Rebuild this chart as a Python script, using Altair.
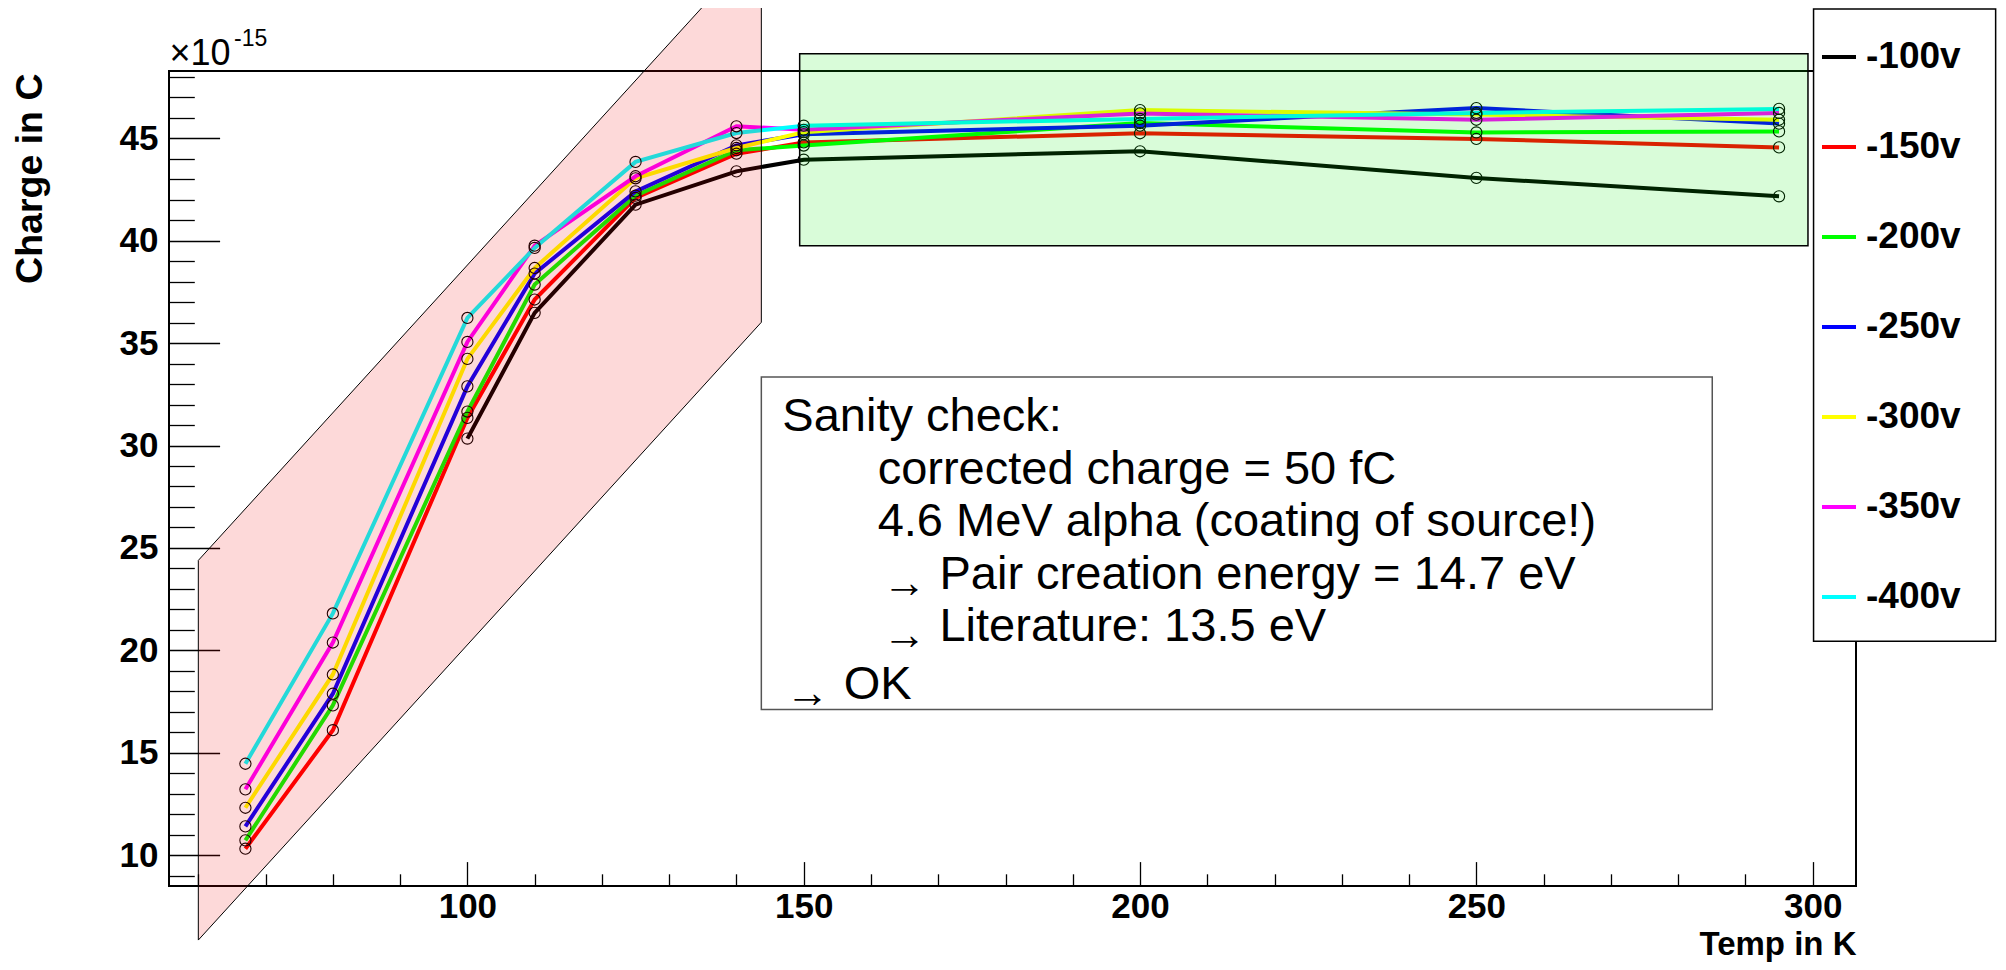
import altair as alt
import pandas as pd

# ---------------- data ----------------
temps = [67, 80, 100, 110, 125, 140, 150, 200, 250, 295]
series_names = ["-100v", "-150v", "-200v", "-250v", "-300v", "-350v", "-400v"]
series_colors = ["#000000", "#ff0000", "#00ff00", "#0000ff", "#ffff00", "#ff00ff", "#00ffff"]

q_100v = [None, None, 30.34, 36.48, 41.76, 43.39, 43.96, 44.37, 43.07, 42.17]
q_150v = [10.31, 16.10, 31.35, 37.13, 42.09, 44.25, 44.80, 45.25, 44.97, 44.56]
q_200v = [10.72, 17.31, 31.66, 37.86, 42.20, 44.42, 44.65, 45.75, 45.29, 45.34]
q_250v = [11.40, 17.88, 32.89, 38.40, 42.41, 44.66, 45.20, 45.62, 46.48, 45.72]
q_300v = [12.31, 18.82, 34.23, 38.67, 43.05, 44.53, 45.30, 46.38, 46.16, 45.91]
q_350v = [13.21, 20.38, 35.06, 39.76, 43.15, 45.59, 45.42, 46.22, 45.91, 46.24]
q_400v = [14.46, 21.80, 36.23, 39.65, 43.85, 45.26, 45.62, 45.95, 46.24, 46.44]
series_values = [q_100v, q_150v, q_200v, q_250v, q_300v, q_350v, q_400v]

x_domain = [55.64, 306.44]
y_domain = [8.49, 48.29]
x_ticks = list(range(60, 301, 10))
y_ticks = list(range(9, 49))

# annotation shapes (data units)
pink_x = [60.0, 143.7]
pink_top = [24.39, 54.57]
pink_bottom = [5.85, 36.02]
green_box = [149.4, 299.3, 39.76, 49.13]
note_box = [143.7, 285.07, 17.11, 33.35]
legend_box = [300.13, 327.2, 20.44, 51.32]

note_lines = ["Sanity check:", "corrected charge = 50 fC", "4.6 MeV alpha (coating of source!)",
              "Pair creation energy = 14.7 eV", "Literature: 13.5 eV", "OK"]
note_x = [146.82, 160.99, 160.99, 170.18, 170.18, 155.94]
note_y = [30.73, 28.14, 25.57, 22.97, 20.45, 17.60]
arrow_x = [161.7, 161.7, 147.3]
arrow_y = [22.97, 20.45, 17.60]

exp_text = ["\u00d710", "-15"]
exp_x = [55.70, 65.30]
exp_y = [48.60, 49.49]

# ---------------- tables ----------------
rows = []
for name, vals in zip(series_names, series_values):
    for t, v in zip(temps, vals):
        if v is not None:
            rows.append({"series": name, "T": t, "Q": v})
df = pd.DataFrame(rows)

FONT = "Liberation Sans"

xs = alt.Scale(domain=x_domain, zero=False, nice=False)
ys = alt.Scale(domain=y_domain, zero=False, nice=False)

xaxis = alt.Axis(
    values=x_ticks, grid=False, domain=False,
    labelExpr="datum.value % 50 === 0 ? datum.label : ''",
    tickSize={"condition": {"test": "datum.value % 50 === 0", "value": -24.4}, "value": -12.2},
    tickColor="black", tickWidth=1.3,
    labelFont=FONT, labelFontSize=35, labelFontWeight="bold", labelColor="black",
    labelPadding=28, labelOverlap=False, labelFlush=False,
    title="Temp in K", titleFont=FONT, titleFontSize=33, titleFontWeight="bold", titleColor="black",
    titleAlign="right", titleAnchor="end", titleBaseline="alphabetic", titleX=1687, titleY=68.5,
)
yaxis = alt.Axis(
    values=y_ticks, grid=False, domain=False,
    labelExpr="datum.value % 5 === 0 ? datum.label : ''",
    tickSize={"condition": {"test": "datum.value % 5 === 0", "value": -50.6}, "value": -25.3},
    tickColor="black", tickWidth=1.3,
    labelFont=FONT, labelFontSize=35, labelFontWeight="bold", labelColor="black",
    labelPadding=61.6, labelOverlap=False, labelFlush=False,
    title="Charge in C", titleFont=FONT, titleFontSize=37.5, titleFontWeight="bold", titleColor="black",
    titleAngle=270, titleAlign="right", titleAnchor="end", titleBaseline="alphabetic",
    titleX=-128, titleY=2,
)


def X(f):
    return alt.X(f, type="quantitative", scale=xs, axis=xaxis)


def Y(f):
    return alt.Y(f, type="quantitative", scale=ys, axis=yaxis)


frame_df = pd.DataFrame({"x0": [x_domain[0]], "x1": [x_domain[1]], "y0": [y_domain[0]], "y1": [y_domain[1]]})
frame = alt.Chart(frame_df).mark_rect(fill=None, stroke="black", strokeWidth=2).encode(
    x=X("x0"), x2="x1", y=Y("y0"), y2="y1")

legend = alt.Legend(
    orient="none", legendX=1651, legendY=-33, title=None,
    symbolType="stroke", symbolSize=1156, symbolStrokeWidth=4, symbolOpacity=1,
    labelFont=FONT, labelFontSize=37, labelFontWeight="bold", labelColor="black",
    labelOffset=8, rowPadding=53, padding=0,
)

lines = alt.Chart(df).mark_line(strokeWidth=4).encode(
    x=X("T"), y=Y("Q"),
    color=alt.Color("series:N", scale=alt.Scale(domain=series_names, range=series_colors),
                    sort=series_names, legend=legend),
)
points = alt.Chart(df).mark_point(shape="circle", filled=False, size=125, color="black",
                                  strokeWidth=1.1, opacity=1).encode(x=X("T"), y=Y("Q"))

pink_df = pd.DataFrame({"x": pink_x, "top": pink_top, "bot": pink_bottom})
pink = alt.Chart(pink_df).mark_area(fill="#f20000", fillOpacity=0.15, stroke="black",
                                    strokeWidth=1, orient="vertical").encode(
    x=X("x"), y=Y("top"), y2="bot")

green_df = pd.DataFrame({"x0": [green_box[0]], "x1": [green_box[1]], "y0": [green_box[2]], "y1": [green_box[3]]})
green = alt.Chart(green_df).mark_rect(fill="#00e800", fillOpacity=0.15, stroke="black",
                                      strokeWidth=1.5).encode(x=X("x0"), x2="x1", y=Y("y0"), y2="y1")

note_df = pd.DataFrame({"x0": [note_box[0]], "x1": [note_box[1]], "y0": [note_box[2]], "y1": [note_box[3]]})
note_rect = alt.Chart(note_df).mark_rect(fill="white", stroke="#555555", strokeWidth=1.5).encode(
    x=X("x0"), x2="x1", y=Y("y0"), y2="y1")

text_df = pd.DataFrame({"x": note_x, "y": note_y, "label": note_lines})
note_text = alt.Chart(text_df).mark_text(align="left", baseline="alphabetic", font=FONT,
                                         fontSize=47, color="black").encode(
    x=X("x"), y=Y("y"), text="label:N")

arrow_df = pd.DataFrame({"x": arrow_x, "y": arrow_y, "label": ["\u2192"] * len(arrow_x)})
arrows = alt.Chart(arrow_df).mark_text(align="left", baseline="alphabetic", font=FONT,
                                       fontSize=44, dy=8, color="black").encode(
    x=X("x"), y=Y("y"), text="label:N")

leg_df = pd.DataFrame({"x0": [legend_box[0]], "x1": [legend_box[1]], "y0": [legend_box[2]], "y1": [legend_box[3]]})
leg_rect = alt.Chart(leg_df).mark_rect(fill="white", stroke="black", strokeWidth=1.5).encode(
    x=X("x0"), x2="x1", y=Y("y0"), y2="y1")

exp_df = pd.DataFrame({"x": exp_x[:1], "y": exp_y[:1], "label": exp_text[:1]})
exp1 = alt.Chart(exp_df).mark_text(align="left", baseline="alphabetic", font=FONT, fontSize=36,
                                   color="black").encode(x=X("x"), y=Y("y"), text="label:N")
exp_df2 = pd.DataFrame({"x": exp_x[1:], "y": exp_y[1:], "label": exp_text[1:]})
exp2 = alt.Chart(exp_df2).mark_text(align="left", baseline="alphabetic", font=FONT, fontSize=23,
                                    color="black").encode(x=X("x"), y=Y("y"), text="label:N")

chart = alt.layer(frame, lines, points, pink, green, note_rect, note_text, arrows, leg_rect, exp1, exp2).properties(
    width=1687, height=815,
    autosize=alt.AutoSizeParams(type="none"),
    padding={"left": 161, "top": 63, "right": 142, "bottom": 76},
    background="white",
).configure_view(stroke=None)

chart.save("out.html", embed_options={"renderer": "svg", "actions": False})
